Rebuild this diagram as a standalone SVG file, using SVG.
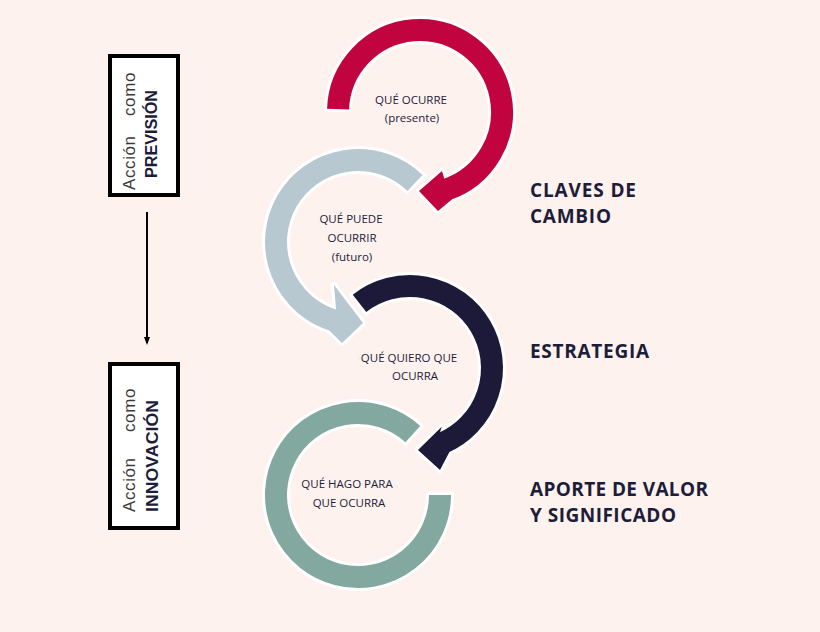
<svg xmlns="http://www.w3.org/2000/svg" width="820" height="632" viewBox="0 0 820 632">
<defs>
<style>
.bg{fill:#fdf2ed}
.box{fill:#ffffff;stroke:#000;stroke-width:4}
.reg{font-family:"Liberation Sans",Arial,sans-serif;font-size:17px;fill:#3a3a3a;letter-spacing:0.6px}
.bld{font-family:"Liberation Sans",Arial,sans-serif;font-weight:bold;font-size:16px;fill:#1e1c3b}
.lbl{font-family:"Open Sans","Noto Sans",sans-serif;font-size:11.5px;fill:#1e1c3b;text-anchor:middle}
.hd{font-family:"Open Sans","Noto Sans",sans-serif;font-weight:700;font-size:19px;fill:#1e1c3b}
.wband{fill:none;stroke:#ffffff;stroke-width:28}
.whead{fill:#ffffff;stroke:#ffffff;stroke-width:6;stroke-linejoin:round}
.band{fill:none;stroke-width:22}
</style>
<marker id="ah" markerWidth="8" markerHeight="6" refX="6" refY="3" orient="auto" markerUnits="userSpaceOnUse"><path d="M0,0 L8,3 L0,6 Z" fill="#000"/></marker>
</defs>
<rect class="bg" x="0" y="0" width="820" height="632"/>

<g id="connectors">
<line x1="147" y1="212" x2="147" y2="343" stroke="#000" stroke-width="2" marker-end="url(#ah)"/>
</g>

<g id="box-prevision">
<rect class="box" x="110" y="56" width="68" height="139"/>
<text class="reg" transform="translate(135,190) rotate(-90)">Acción</text>
<text class="reg" transform="translate(135,116) rotate(-90)">como</text>
<text class="bld" transform="translate(157,178) rotate(-90)" textLength="88" lengthAdjust="spacingAndGlyphs">PREVISIÓN</text>
</g>

<g id="box-innovacion">
<rect class="box" x="110" y="364" width="68" height="164"/>
<text class="reg" transform="translate(135,512) rotate(-90)">Acción</text>
<text class="reg" transform="translate(135,432) rotate(-90)">como</text>
<text class="bld" transform="translate(158,512) rotate(-90)" textLength="112" lengthAdjust="spacingAndGlyphs">INNOVACIÓN</text>
</g>

<g id="ring-presente">
<path class="wband" d="M338,112 A82,82 0 1 1 445.34,189.99"/>
<polygon class="whead" points="444.28,178.72 442,171 419,191 438,211 451.81,199.39"/>
<path class="band" stroke="#c1043f" d="M338.05,109.14 A82,82 0 1 1 445.34,189.99"/>
<polygon fill="#c1043f" points="444.28,178.72 442,171 419,191 438,211 451.81,199.39"/>
<text class="lbl" x="411" y="104">QUÉ OCURRE</text>
<text class="lbl" x="412" y="122">(presente)</text>
</g>

<g id="ring-futuro">
<path class="wband" d="M416.98,185.03 A82,82 0 1 0 335.4,320.83"/>
<polygon class="whead" points="336.06,309.53 334,285 363,323 342,343 329.26,330.45"/>
<path class="band" stroke="#b8c8d0" d="M414.97,183.02 A82,82 0 1 0 335.4,320.83"/>
<polygon fill="#b8c8d0" points="336.06,309.53 334,285 363,323 342,343 329.26,330.45"/>
<text class="lbl" x="351" y="223">QUÉ PUEDE</text>
<text class="lbl" x="352" y="242">OCURRIR</text>
<text class="lbl" x="352" y="261">(futuro)</text>
</g>

<g id="ring-quiero">
<path class="wband" d="M357.29,305.19 A82,82 0 1 1 442.04,443.48"/>
<polygon class="whead" points="440,432.35 441.7,426.7 418,450 440,470 449.3,452.3"/>
<path class="band" stroke="#1c1a38" d="M359.51,303.38 A82,82 0 1 1 442.04,443.48"/>
<polygon fill="#1c1a38" points="440,432.35 441.7,426.7 418,450 440,470 449.3,452.3"/>
<text class="lbl" x="409" y="362">QUÉ QUIERO QUE</text>
<text class="lbl" x="415" y="380">OCURRA</text>
</g>

<g id="ring-hago">
<path class="wband" d="M439.95,492.14 A82,82 0 1 1 414.97,436.02"/>
<path class="band" stroke="#83a89f" d="M440,495 A82,82 0 1 1 412.87,434.06"/>
<text class="lbl" x="347" y="488">QUÉ HAGO PARA</text>
<text class="lbl" x="349" y="507">QUE OCURRA</text>
</g>

<g id="label-claves">
<text class="hd" x="530" y="197" textLength="106" lengthAdjust="spacing">CLAVES DE</text>
<text class="hd" x="530" y="223" textLength="81" lengthAdjust="spacing">CAMBIO</text>
</g>
<g id="label-estrategia">
<text class="hd" x="530" y="358" textLength="119" lengthAdjust="spacing">ESTRATEGIA</text>
</g>
<g id="label-aporte">
<text class="hd" x="530" y="496" textLength="178" lengthAdjust="spacing">APORTE DE VALOR</text>
<text class="hd" x="530" y="522" textLength="146" lengthAdjust="spacing">Y SIGNIFICADO</text>
</g>
</svg>
